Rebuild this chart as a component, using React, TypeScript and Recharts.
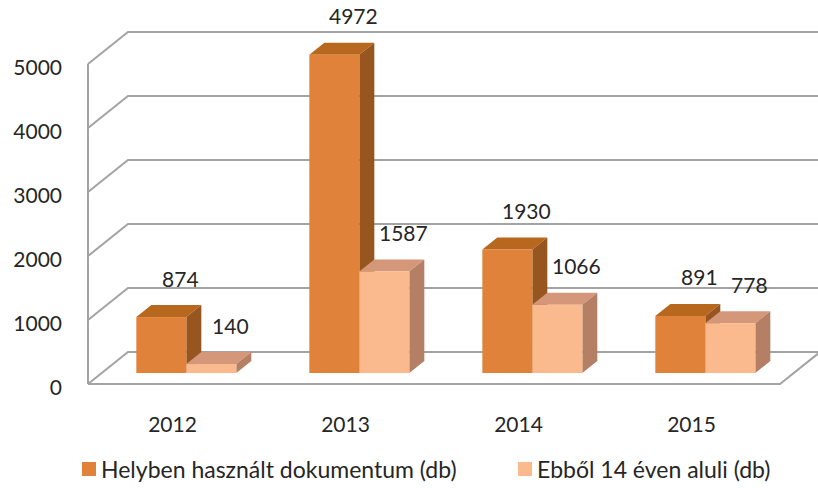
import React from "react";
import { BarChart, Bar, XAxis, YAxis, CartesianGrid, LabelList } from "recharts";

const years = ["2012", "2013", "2014", "2015"];
const helyben = [874, 4972, 1930, 891];
const ebbol14 = [140, 1587, 1066, 778];
const yTicks = [0, 1000, 2000, 3000, 4000, 5000];

const seriesNames = ["Helyben használt dokumentum (db)", "Ebből 14 éven aluli (db)"];

const data = years.map((year, i) => ({ year, helyben: helyben[i], ebbol14: ebbol14[i] }));

const FONT = "Lato, 'Open Sans', sans-serif";
const TEXT = "#262626";
const GRID = "#a3a3a3";
// wall depth (back wall vs front plane)
const DEPTH_X = 40;
const DEPTH_Y = -32;
// bar position inside the depth and its own thickness
const BAR_OX = 12;
const BAR_OY = -11;
const BAR_DX = 15;
const BAR_DY = -12;
const PLOT_BOTTOM = 384;

const palette = {
  dark: { front: "#e0823a", top: "#b8671f", side: "#97561f" },
  light: { front: "#fbb98e", top: "#d4977a", side: "#b47f65" },
};

const makeBox = (colors: { front: string; top: string; side: string }) => (props: any) => {
  const { x, y, width, height } = props;
  if (width == null || height == null) return null;
  const fx = x + BAR_OX;
  const fy = y + BAR_OY;
  const w = width;
  const h = height;
  return (
    <g>
      <polygon
        points={`${fx},${fy} ${fx + w},${fy} ${fx + w + BAR_DX},${fy + BAR_DY} ${fx + BAR_DX},${fy + BAR_DY}`}
        fill={colors.top}
      />
      <polygon
        points={`${fx + w},${fy} ${fx + w + BAR_DX},${fy + BAR_DY} ${fx + w + BAR_DX},${fy + BAR_DY + h} ${fx + w},${fy + h}`}
        fill={colors.side}
      />
      <rect x={fx} y={fy} width={w} height={h} fill={colors.front} />
    </g>
  );
};

const GridLine = (props: any) => {
  const { x1, y1, x2 } = props;
  const isFloor = Math.abs(y1 - PLOT_BOTTOM) < 1;
  return (
    <g>
      <polyline
        points={`${x1},${y1} ${x1 + DEPTH_X},${y1 + DEPTH_Y} ${x2 + DEPTH_X},${y1 + DEPTH_Y}`}
        fill="none"
        stroke={GRID}
        strokeWidth={2}
      />
      {isFloor && (
        <polyline
          points={`${x1},${y1} ${x2},${y1} ${x2 + DEPTH_X},${y1 + DEPTH_Y}`}
          fill="none"
          stroke={GRID}
          strokeWidth={2}
        />
      )}
    </g>
  );
};

const YTick = (props: any) => {
  const { y, payload } = props;
  return (
    <text x={62} y={y + 2} textAnchor="end" dominantBaseline="central" fontSize={21} fill={TEXT} fontFamily={FONT}>
      {payload.value}
    </text>
  );
};

const XTick = (props: any) => {
  const { x, y, payload } = props;
  return (
    <text x={x - 2} y={y + 31} textAnchor="middle" dominantBaseline="central" fontSize={21} fill={TEXT} fontFamily={FONT}>
      {payload.value}
    </text>
  );
};

const ValueLabel = (props: any) => {
  const { x, y, width, value } = props;
  return (
    <text
      x={x + BAR_OX + width / 2 + 19}
      y={y + BAR_OY - 39}
      textAnchor="middle"
      dominantBaseline="central"
      fontSize={21}
      fill={TEXT}
      fontFamily={FONT}
    >
      {value}
    </text>
  );
};

const legendItems = [
  { name: seriesNames[0], color: palette.dark.front, left: 82 },
  { name: seriesNames[1], color: palette.light.front, left: 518 },
];

export default function App() {
  return (
    <div style={{ position: "absolute", left: 0, top: 0, width: 818, height: 488, background: "#fff", overflow: "hidden" }}>
      <BarChart
        width={818}
        height={488}
        data={data}
        margin={{ top: 64, right: 38, bottom: 74, left: 8 }}
        barCategoryGap="21%"
        barGap={0}
      >
        <CartesianGrid vertical={false} horizontal={<GridLine />} />
        <XAxis dataKey="year" axisLine={false} tickLine={false} tick={<XTick />} height={30} />
        <YAxis
          domain={[0, 5000]}
          ticks={yTicks}
          width={80}
          axisLine={{ stroke: GRID, strokeWidth: 2 }}
          tickLine={false}
          tick={<YTick />}
        />
        <Bar dataKey="helyben" name={seriesNames[0]} isAnimationActive={false} shape={makeBox(palette.dark)}>
          <LabelList dataKey="helyben" content={<ValueLabel />} />
        </Bar>
        <Bar dataKey="ebbol14" name={seriesNames[1]} isAnimationActive={false} shape={makeBox(palette.light)}>
          <LabelList dataKey="ebbol14" content={<ValueLabel />} />
        </Bar>
      </BarChart>
      {legendItems.map((item) => (
        <div
          key={item.name}
          style={{
            position: "absolute",
            top: 456,
            left: item.left,
            height: 26,
            display: "flex",
            alignItems: "center",
            fontFamily: FONT,
            fontSize: 23,
            color: TEXT,
            whiteSpace: "nowrap",
          }}
        >
          <span style={{ display: "inline-block", width: 14, height: 14, background: item.color, marginRight: 5 }} />
          <span>{item.name}</span>
        </div>
      ))}
    </div>
  );
}
